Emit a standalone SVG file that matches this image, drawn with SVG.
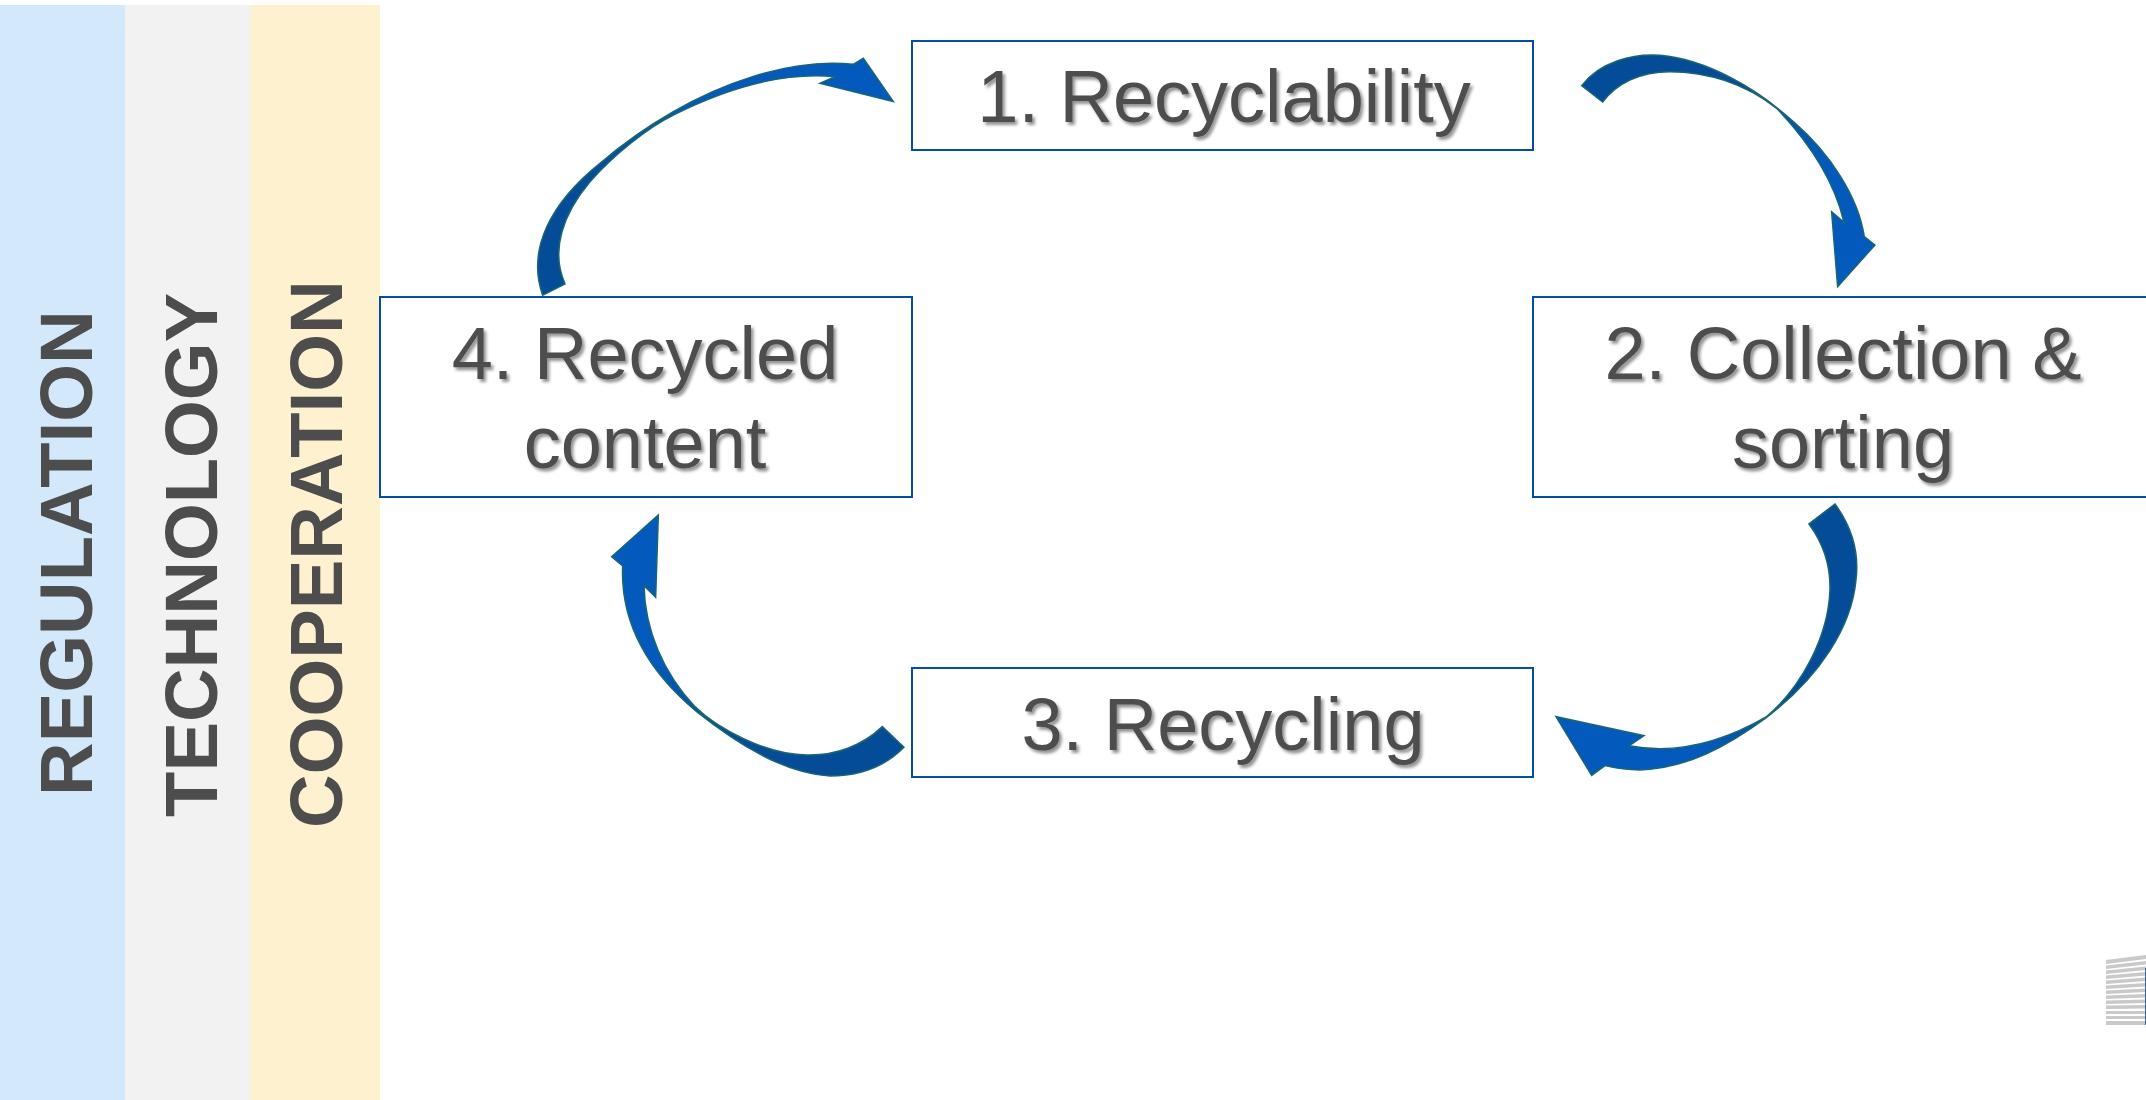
<svg xmlns="http://www.w3.org/2000/svg" width="2146" height="1100" viewBox="0 0 2146 1100">
<style>
.box{fill:#fff;stroke:#034ea2;stroke-width:2}
.lbl{font-family:"Liberation Sans",Arial,sans-serif;font-size:74px;fill:#4d4d4d;text-anchor:middle;filter:url(#shadow)}
.band{font-family:"Liberation Sans",Arial,sans-serif;font-size:74.3px;font-weight:bold;fill:#4d4d4d}
.arrow{stroke:#1a6670;stroke-width:4.5;stroke-linejoin:miter}
.st{fill:#c9c9c9}
</style>
<defs>
<filter id="shadow" x="-5%" y="-10%" width="115%" height="130%"><feDropShadow dx="2.5" dy="3" stdDeviation="1.8" flood-color="#000" flood-opacity="0.42"/></filter>
<linearGradient id="gA" x1="0" y1="1" x2="1" y2="0"><stop offset="0.35" stop-color="#044c98"/><stop offset="0.65" stop-color="#035abc"/></linearGradient>
<linearGradient id="gB" x1="0" y1="0" x2="1" y2="1"><stop offset="0.4" stop-color="#044c98"/><stop offset="0.65" stop-color="#035abc"/></linearGradient>
<linearGradient id="gC" x1="1" y1="0" x2="0" y2="1"><stop offset="0.5" stop-color="#044c98"/><stop offset="0.7" stop-color="#035abc"/></linearGradient>
<linearGradient id="gD" x1="1" y1="1" x2="0" y2="0"><stop offset="0.4" stop-color="#044c98"/><stop offset="0.65" stop-color="#035abc"/></linearGradient>
</defs>
<rect width="2146" height="1100" fill="#fff"/>
<g id="band-regulation"><rect x="0" y="5" width="125" height="1095" fill="#d3e8fa"/><text class="band" transform="translate(92 796) rotate(-90)">REGULATION</text></g>
<g id="band-technology"><rect x="125" y="5" width="125" height="1095" fill="#f2f2f2"/><text class="band" transform="translate(217 817) rotate(-90)">TECHNOLOGY</text></g>
<g id="band-cooperation"><rect x="250" y="5" width="130" height="1095" fill="#fef1cf"/><text class="band" transform="translate(342 828) rotate(-90)">COOPERATION</text></g>
<g id="node-1"><rect class="box" x="912" y="41" width="621" height="109"/><text class="lbl" x="1224" y="122">1. Recyclability</text></g>
<g id="node-2"><rect class="box" x="1533" y="297" width="640" height="200"/><text class="lbl"><tspan x="1843" y="379">2. Collection &amp;</tspan><tspan x="1843" y="468">sorting</tspan></text></g>
<g id="node-3"><rect class="box" x="912" y="668" width="621" height="109"/><text class="lbl" x="1223" y="750">3. Recycling</text></g>
<g id="node-4"><rect class="box" x="380" y="297" width="532" height="200"/><text class="lbl"><tspan x="645" y="379">4. Recycled</tspan><tspan x="645" y="468">content</tspan></text></g>
<g id="connectors">
<path class="arrow" fill="url(#gA)" transform="translate(500 0) scale(.3333)" d="M128,886C80,750 150,610 300,490C370,430 450,375 520,335C640,265 860,170 1060,193L1090,175L1180,305L960,250L1005,230C850,215 680,265 520,345C440,385 340,465 270,545C190,640 150,750 195,852Z"/>
<path class="arrow" fill="url(#gB)" transform="translate(1500 20) scale(.3333)" d="M245,197C300,125 400,100 480,106C620,118 770,205 880,305C990,400 1075,530 1093,650L1125,675L1013,800L995,575L1032,607C1005,490 930,370 830,265C735,190 620,155 510,155C420,155 350,190 308,246Z"/>
<path class="arrow" fill="url(#gC)" transform="translate(1500 480) scale(.3333)" d="M1005,72C1055,140 1078,220 1068,300C1055,440 960,590 800,712C680,800 560,865 420,870C385,870 350,865 315,857L275,886L168,710L432,767L388,797C530,825 670,785 800,710C905,620 985,470 990,330C992,260 970,190 927,132Z"/>
<path class="arrow" fill="url(#gD)" transform="translate(580 490) scale(.3333)" d="M972,772C910,835 830,858 750,858C610,850 470,760 350,665C230,565 120,420 128,228L95,200L235,75L227,322L192,287C195,420 250,550 345,650C410,715 560,795 680,795C770,797 850,765 907,710Z"/>
</g>
<g id="corner-stripes">
<path class="st" d="M2106,960L2146,955V959L2106,964Z"/><path class="st" d="M2106,965.500L2146,961V964.500L2106,969Z"/><path class="st" d="M2106,970.500L2146,966.500V970L2106,974Z"/><path class="st" d="M2106,975.500L2146,972V975.500L2106,979Z"/><path class="st" d="M2106,980.500L2146,977.500V981L2106,984Z"/><path class="st" d="M2106,985.500L2146,983V986.500L2106,989Z"/><path class="st" d="M2106,990.500L2146,988.500V992L2106,994Z"/><path class="st" d="M2106,995.500L2146,994V997.500L2106,999Z"/><path class="st" d="M2106,1000.500L2146,999.500V1003L2106,1004Z"/><path class="st" d="M2106,1005.500L2146,1005V1008.500L2106,1009Z"/><path class="st" d="M2106,1011L2146,1011V1014L2106,1014Z"/><path class="st" d="M2106,1016L2146,1016V1019L2106,1019Z"/><path class="st" d="M2106,1021L2146,1021V1025L2106,1025Z"/>
<rect x="2145" y="968" width="1" height="57" fill="#3a66a8"/>
</g>
</svg>
